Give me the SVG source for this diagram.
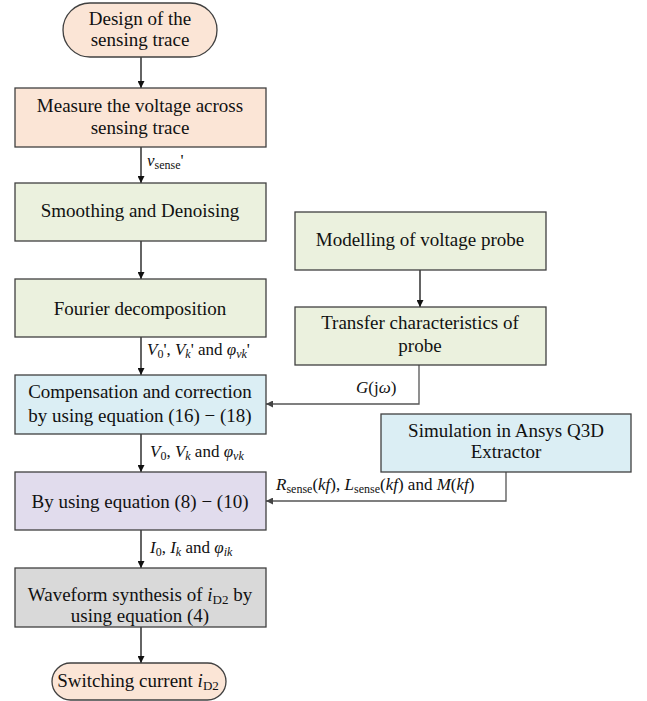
<svg xmlns="http://www.w3.org/2000/svg" width="647" height="701" viewBox="0 0 647 701" font-family="'Liberation Serif', 'DejaVu Serif', serif">
<style>
.b{stroke:#404040;stroke-width:1.3}
.t{font-family:'Liberation Serif','DejaVu Serif',serif;font-size:19px;fill:#111;text-anchor:middle}
.l{font-family:'Liberation Serif','DejaVu Serif',serif;font-size:17px;fill:#111}
.c{fill:none;stroke:#111;stroke-width:1.3}
.g{fill:none;stroke:#555;stroke-width:1.3}
</style>
<defs>
<marker id="a" viewBox="0 0 10 10" refX="10" refY="5" markerWidth="7" markerHeight="7" markerUnits="userSpaceOnUse" orient="auto"><path d="M0,0L10,5L0,10z" fill="#111"/></marker>
<marker id="ag" viewBox="0 0 10 10" refX="10" refY="5" markerWidth="7" markerHeight="7" markerUnits="userSpaceOnUse" orient="auto"><path d="M0,0L10,5L0,10z" fill="#444"/></marker>
</defs>
<rect width="647" height="701" fill="#fff"/>
<g id="connectors">
<path class="c" d="M141,57V88" marker-end="url(#a)"/>
<path class="c" d="M141,147V183" marker-end="url(#a)"/>
<path class="c" d="M141,241V279" marker-end="url(#a)"/>
<path class="c" d="M141,337V375" marker-end="url(#a)"/>
<path class="c" d="M141,434V472" marker-end="url(#a)"/>
<path class="c" d="M141,530V568" marker-end="url(#a)"/>
<path class="c" d="M141,627V663" marker-end="url(#a)"/>
<path class="c" d="M420,270V307" marker-end="url(#a)"/>
<path class="g" d="M419,365V404H266" marker-end="url(#ag)"/>
<path class="g" d="M506,472V501H266" marker-end="url(#ag)"/>
<text class="l" x="147" y="166" font-style="italic">v<tspan font-style="normal" font-size="12" dy="3">sense</tspan><tspan font-style="normal" dy="-3">'</tspan></text>
<text class="l" x="147" y="355"><tspan font-style="italic">V</tspan><tspan font-size="12" dy="3">0</tspan><tspan dy="-3">', </tspan><tspan font-style="italic">V</tspan><tspan font-style="italic" font-size="12" dy="3">k</tspan><tspan dy="-3">' and </tspan><tspan font-style="italic">φ</tspan><tspan font-style="italic" font-size="12" dy="3">vk</tspan><tspan dy="-3">'</tspan></text>
<text class="l" x="150" y="457"><tspan font-style="italic">V</tspan><tspan font-size="12" dy="3">0</tspan><tspan dy="-3">, </tspan><tspan font-style="italic">V</tspan><tspan font-style="italic" font-size="12" dy="3">k</tspan><tspan dy="-3"> and </tspan><tspan font-style="italic">φ</tspan><tspan font-style="italic" font-size="12" dy="3">vk</tspan></text>
<text class="l" x="150" y="553"><tspan font-style="italic">I</tspan><tspan font-size="12" dy="3">0</tspan><tspan dy="-3">, </tspan><tspan font-style="italic">I</tspan><tspan font-style="italic" font-size="12" dy="3">k</tspan><tspan dy="-3"> and </tspan><tspan font-style="italic">φ</tspan><tspan font-style="italic" font-size="12" dy="3">ik</tspan></text>
<text class="l" x="356" y="393"><tspan font-style="italic">G</tspan>(j<tspan font-style="italic">ω</tspan>)</text>
<text class="l" x="276" y="490"><tspan font-style="italic">R</tspan><tspan font-size="12" dy="3">sense</tspan><tspan dy="-3">(</tspan><tspan font-style="italic">kf</tspan>), <tspan font-style="italic">L</tspan><tspan font-size="12" dy="3">sense</tspan><tspan dy="-3">(</tspan><tspan font-style="italic">kf</tspan>) and <tspan font-style="italic">M</tspan>(<tspan font-style="italic">kf</tspan>)</text>
</g>
<g id="n1"><rect class="b" x="63" y="3" width="154" height="54" rx="27" fill="#fbe5d6"/><text class="t" x="140" y="25">Design of the</text><text class="t" x="140" y="46">sensing trace</text></g>
<g id="n2"><rect class="b" x="15" y="88" width="251" height="59" fill="#fbe5d6"/><text class="t" x="140" y="112">Measure the voltage across</text><text class="t" x="140" y="134">sensing trace</text></g>
<g id="n3"><rect class="b" x="15" y="183" width="251" height="58" fill="#ebf1de"/><text class="t" x="140" y="217">Smoothing and Denoising</text></g>
<g id="n4"><rect class="b" x="15" y="279" width="251" height="58" fill="#ebf1de"/><text class="t" x="140" y="315">Fourier decomposition</text></g>
<g id="n5"><rect class="b" x="15" y="375" width="251" height="59" fill="#dbeef4"/><text class="t" x="140" y="398">Compensation and correction</text><text class="t" x="140" y="422">by using equation (16) − (18)</text></g>
<g id="n6"><rect class="b" x="15" y="472" width="251" height="58" fill="#e1dced"/><text class="t" x="140" y="508">By using equation (8) − (10)</text></g>
<g id="n7"><rect class="b" x="15" y="568" width="251" height="59" fill="#d9d9d9"/><text class="t" x="140" y="601">Waveform synthesis of <tspan font-style="italic">i</tspan><tspan font-size="13" dy="3">D2</tspan><tspan dy="-3"> by</tspan></text><text class="t" x="140" y="622">using equation (4)</text></g>
<g id="n8"><rect class="b" x="52" y="663" width="174" height="37" rx="18.5" fill="#fbe5d6"/><text class="t" x="138" y="687">Switching current <tspan font-style="italic">i</tspan><tspan font-size="13" dy="3">D2</tspan></text></g>
<g id="n9"><rect class="b" x="295" y="212" width="251" height="58" fill="#ebf1de"/><text class="t" x="420" y="246">Modelling of voltage probe</text></g>
<g id="n10"><rect class="b" x="295" y="307" width="251" height="58" fill="#ebf1de"/><text class="t" x="420" y="329">Transfer characteristics of</text><text class="t" x="420" y="352">probe</text></g>
<g id="n11"><rect class="b" x="381" y="414" width="250" height="58" fill="#dbeef4"/><text class="t" x="506" y="437">Simulation in Ansys Q3D</text><text class="t" x="506" y="458">Extractor</text></g>
</svg>
